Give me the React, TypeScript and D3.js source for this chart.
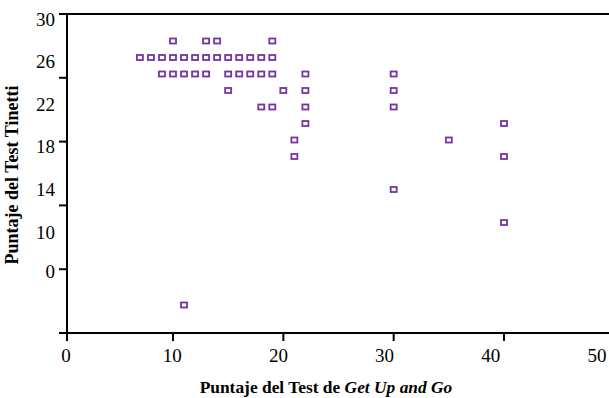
import React from "react";
import * as d3 from "d3";

// data: Get Up and Go (x) vs Tinetti (y)
const getUpGo = [
  10, 13, 14, 19,
  7, 8, 9, 10, 11, 12, 13, 14, 15, 16, 17, 18, 19,
  9, 10, 11, 12, 13, 15, 16, 17, 18, 19, 22, 30,
  15, 20, 22, 30,
  18, 19, 22, 30,
  22, 40,
  21, 35,
  21, 40,
  30,
  40,
  11,
];
const tinetti = [
  28, 28, 28, 28,
  27, 27, 27, 27, 27, 27, 27, 27, 27, 27, 27, 27, 27,
  26, 26, 26, 26, 26, 26, 26, 26, 26, 26, 26, 26,
  25, 25, 25, 25,
  24, 24, 24, 24,
  23, 23,
  22, 22,
  21, 21,
  19,
  17,
  12,
];

const xTickValues = [0, 10, 20, 30, 40, 50];
const yTickLabels = [30, 26, 22, 18, 14, 10, 0];
const yTickCount = 5;

const xTitle = "Puntaje del Test de ";
const xTitleItalic = "Get Up and Go";
const yTitle = "Puntaje del Test Tinetti";

const width = 609;
const height = 398;
const axisLeft = 67;
const axisTop = 14;
const axisBottom = 333;
const markColor = "#7434a4";
const font = "'Liberation Serif', 'Times New Roman', serif";

export default function App() {
  const x = d3.scaleLinear().domain([10, 40]).range([173, 504]);
  const xLabel = d3.scaleLinear().domain([0, 50]).range([66, 597]);
  const yTick = d3.scaleLinear().domain([0, yTickCount]).range([axisBottom, axisTop]);
  const yLabel = d3.scaleLinear().domain([30, 10, 0]).range([19, 232, 271]);
  const y = d3.scaleLinear().domain([12, 28]).range([305, 41]);

  const points = getUpGo.map((g, i) => ({ x: g, y: tinetti[i] }));

  return (
    <svg width={width} height={height} style={{ position: "absolute", left: 0, top: 0, background: "#fff" }}>
      {/* frame lines */}
      <line x1={59} x2={width} y1={axisTop} y2={axisTop} stroke="#000" strokeWidth={2} />
      <line x1={59} x2={width} y1={axisBottom} y2={axisBottom} stroke="#000" strokeWidth={2} />
      <line x1={axisLeft} x2={axisLeft} y1={axisTop} y2={axisBottom + 8} stroke="#000" strokeWidth={2} />

      {/* y ticks */}
      {d3.range(yTickCount + 1).map((i) => (
        <line key={"yt" + i} x1={59} x2={axisLeft} y1={yTick(i)} y2={yTick(i)} stroke="#000" strokeWidth={2} />
      ))}
      {yTickLabels.map((v) => (
        <text key={"yl" + v} x={55} y={yLabel(v) + 6.5} textAnchor="end" fontFamily={font} fontSize={19} fill="#000">
          {v}
        </text>
      ))}

      {/* x ticks */}
      {xTickValues.filter((v) => v > 0 && v <= 40).map((v) => (
        <line key={"xt" + v} x1={x(v)} x2={x(v)} y1={axisBottom} y2={axisBottom + 8} stroke="#000" strokeWidth={2} />
      ))}
      {xTickValues.map((v) => (
        <text key={"xl" + v} x={xLabel(v)} y={362} textAnchor="middle" fontFamily={font} fontSize={19} fill="#000">
          {v}
        </text>
      ))}

      {/* titles */}
      <text x={326} y={393} textAnchor="middle" fontFamily={font} fontSize={17.4} fontWeight="bold" fill="#000">
        {xTitle}
        <tspan fontStyle="italic">{xTitleItalic}</tspan>
      </text>
      <text
        transform="translate(18,175) rotate(-90)"
        textAnchor="middle"
        fontFamily={font}
        fontSize={18}
        fontWeight="bold"
        fill="#000"
      >
        {yTitle}
      </text>

      {/* marks */}
      {points.map((p, i) => (
        <rect
          key={"p" + i}
          x={x(p.x) - 3}
          y={y(p.y) - 2.5}
          width={6}
          height={5}
          fill="none"
          stroke={markColor}
          strokeWidth={1.8}
        />
      ))}
    </svg>
  );
}
